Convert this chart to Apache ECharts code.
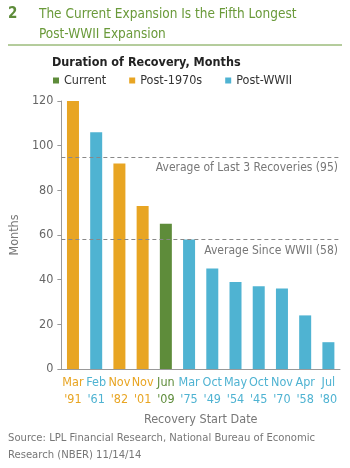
<!DOCTYPE html>
<html>
<head>
<meta charset="utf-8">
<script src="https://cdn.jsdelivr.net/npm/echarts@6/dist/echarts.min.js"></script>
<style>
  html, body { margin: 0; padding: 0; background: #fff; }
  #chart { width: 350px; height: 468px; }
</style>
</head>
<body>
<div id="chart"></div>
<script>
const months = ['Mar', 'Feb', 'Nov', 'Nov', 'Jun', 'Mar', 'Oct', 'May', 'Oct', 'Nov', 'Apr', 'Jul'];
const years = ["'91", "'61", "'82", "'01", "'09", "'75", "'49", "'54", "'45", "'70", "'58", "'80"];
const groups = ['Post-1970s', 'Post-WWII', 'Post-1970s', 'Post-1970s', 'Current', 'Post-WWII',
  'Post-WWII', 'Post-WWII', 'Post-WWII', 'Post-WWII', 'Post-WWII', 'Post-WWII'];
const durations = [120, 106, 92, 73, 65, 58, 45, 39, 37, 36, 24, 12];
const seriesNames = ['Current', 'Post-1970s', 'Post-WWII'];
const averages = [
  { name: 'Average of Last 3 Recoveries (95)', value: 95 },
  { name: 'Average Since WWII (58)', value: 58 }
];

const colors = { 'Current': '#5E8C3A', 'Post-1970s': '#E8A523', 'Post-WWII': '#4FB3D2' };
const font = '"Liberation Sans Narrow", "DejaVu Sans Condensed", sans-serif';

const chart = echarts.init(document.getElementById('chart'));

const categories = months.map((m, i) => ({
  value: m + '\n' + years[i],
  textStyle: { color: colors[groups[i]] }
}));

const series = seriesNames.map((name, k) => ({
  name: name,
  type: 'bar',
  stack: 'all',
  barWidth: 12,
  itemStyle: { color: colors[name] },
  data: durations.map((v, i) => groups[i] === name ? v : '-'),
  markLine: k === 0 ? {
    silent: true,
    symbol: 'none',
    lineStyle: { color: '#888', type: [4, 3], width: 1 },
    label: {
      position: 'insideEndBottom',
      color: '#777',
      fontFamily: font,
      fontSize: 12,
      formatter: p => p.name,
      distance: [2, 5]
    },
    data: averages.map(a => ({ name: a.name, yAxis: a.value }))
  } : undefined
}));

chart.setOption({
  animation: false,
  textStyle: { fontFamily: font },
  title: [
    { text: '2', left: 8, top: 7, padding: 0, textStyle: { color: '#5E8C3A', fontSize: 15, fontWeight: 'bold', fontFamily: font } },
    {
      text: 'The Current Expansion Is the Fifth Longest\nPost-WWII Expansion',
      left: 39, top: 4, padding: 0,
      textStyle: { color: '#6A9A3A', fontSize: 13.5, fontWeight: 'normal', lineHeight: 20, fontFamily: font }
    },
    { text: 'Duration of Recovery, Months', left: 52, top: 56, padding: 0, textStyle: { color: '#222', fontSize: 12.5, fontWeight: 'bold', fontFamily: font } },
    {
      text: 'Source: LPL Financial Research, National Bureau of Economic\nResearch (NBER) 11/14/14',
      left: 8, top: 430, padding: 0,
      textStyle: { color: '#777', fontSize: 11.2, fontWeight: 'normal', lineHeight: 17, fontFamily: font }
    }
  ],
  graphic: [
    { type: 'line', shape: { x1: 8, y1: 45, x2: 342, y2: 45 }, style: { stroke: '#6A9A3A', lineWidth: 1 } }
  ],
  legend: {
    left: 48, top: 69,
    icon: 'rect', itemWidth: 6, itemHeight: 6, itemGap: 23,
    textStyle: { color: '#333', fontSize: 12.5, fontFamily: font },
    data: seriesNames
  },
  grid: { left: 52, right: 10, top: 101, bottom: 99 },
  xAxis: {
    type: 'category',
    data: categories,
    name: 'Recovery Start Date',
    nameLocation: 'middle',
    nameGap: 37,
    nameTextStyle: { color: '#777', fontSize: 12.5, fontFamily: font },
    axisLine: { lineStyle: { color: '#999' } },
    axisTick: { show: false },
    axisLabel: { interval: 0, fontSize: 12.5, lineHeight: 17, margin: 5, fontFamily: font }
  },
  yAxis: {
    type: 'value',
    min: 0, max: 120, interval: 20,
    name: 'Months',
    nameLocation: 'middle',
    nameGap: 29,
    nameTextStyle: { color: '#777', fontSize: 12.5, fontFamily: font },
    axisLine: { show: true, lineStyle: { color: '#999' } },
    axisTick: { show: true, length: 4, lineStyle: { color: '#999' } },
    axisLabel: { color: '#666', fontSize: 12.5, margin: 8, fontFamily: font },
    splitLine: { show: false }
  },
  series: series
});
</script>
</body>
</html>
